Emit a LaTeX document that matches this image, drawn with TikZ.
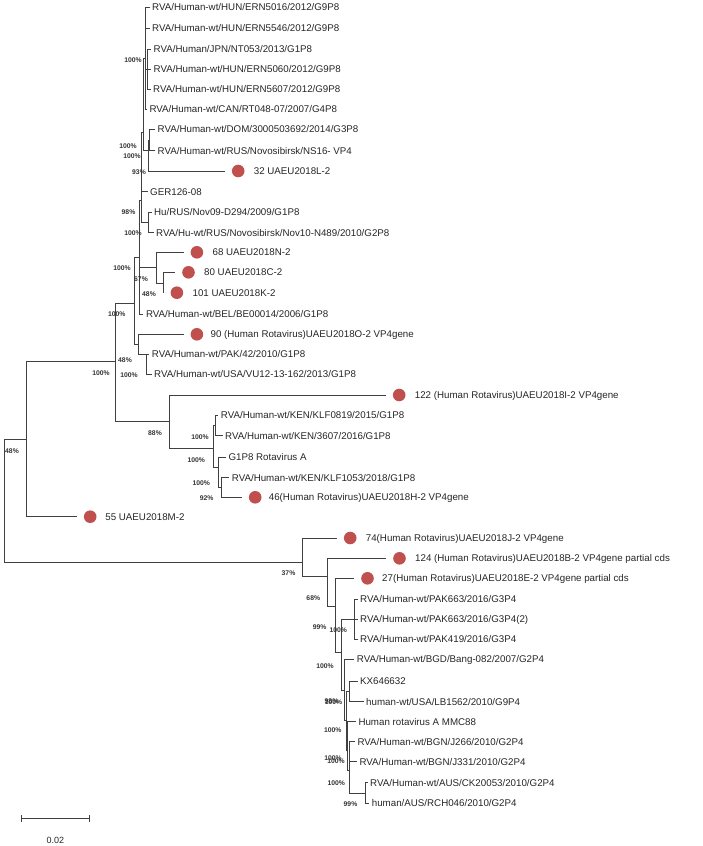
\documentclass[tikz,border=0pt]{standalone}
\usepackage{fontspec}
\setmainfont{Liberation Sans}
\usetikzlibrary{positioning,arrows.meta}
\definecolor{dotred}{RGB}{192,80,77}

\begin{document}
\begin{tikzpicture}[x=1pt,y=-1pt]

	\tikzset{branch/.style={line width=0.8pt,draw=black!75},
		leaf/.style={anchor=west,inner sep=0pt,text height=7pt,text depth=0pt,
			font=\fontsize{9.75}{11}\selectfont,text=black!85},
		udot/.style={circle,fill=dotred,inner sep=0pt,minimum size=12.6pt},
		bs/.style={inner sep=0pt,text height=5pt,text depth=0pt,
			font=\fontsize{6.8}{7}\selectfont\bfseries,text=black!80}}
	\useasboundingbox (0,0) rectangle (702,846);

	% internal nodes
	\coordinate (root) at (4,500);
	\coordinate (R1) at (26,439);
	\coordinate (N115) at (115.7,361);
	\coordinate (N88) at (169,421.7);
	\coordinate (K1) at (213.3,448);
	\coordinate (K2) at (215,425.3);
	\coordinate (K3) at (218.3,467);
	\coordinate (K4) at (221.7,487.5);
	\coordinate (U) at (134.3,303);
	\coordinate (V) at (138.3,344);
	\coordinate (PAKn) at (146.7,354);
	\coordinate (B) at (139.3,257);
	\coordinate (M1) at (156.7,267);
	\coordinate (M2) at (163.3,283);
	\coordinate (C) at (141.7,200);
	\coordinate (HuR) at (148.3,222);
	\coordinate (D) at (143.3,132);
	\coordinate (E) at (145.7,58);
	\coordinate (E2) at (147.3,69.3);
	\coordinate (F) at (148.3,150);
	\coordinate (F2) at (149.5,140);
	\coordinate (L1) at (302,562.3);
	\coordinate (L2) at (327,576.7);
	\coordinate (L3) at (335,606.7);
	\coordinate (L4) at (341.7,652);
	\coordinate (PKn) at (354.3,619);
	\coordinate (L5) at (344,690);
	\coordinate (L6) at (346,720);
	\coordinate (KXn) at (349.3,691);
	\coordinate (L7) at (347.5,750);
	\coordinate (L8) at (349,770);
	\coordinate (CKn) at (365,793);

	% branch tips
	\coordinate (t5016) at (149.5,7.3);
	\coordinate (t5546) at (149.5,28.3);
	\coordinate (tJPN) at (151,49.3);
	\coordinate (t5060) at (151,69.3);
	\coordinate (t5607) at (150.5,89.3);
	\coordinate (tCAN) at (146.8,109.3);
	\coordinate (tDOM) at (155,129.3);
	\coordinate (tNS16) at (155,150.7);
	\coordinate (t32) at (225,171);
	\coordinate (tGER) at (147.5,191.7);
	\coordinate (tHu) at (151.5,212.3);
	\coordinate (tNov10) at (153.5,232.7);
	\coordinate (t68) at (183.7,252.3);
	\coordinate (t80) at (175.3,272.3);
	\coordinate (t101) at (163.7,292.7);
	\coordinate (tBEL) at (143.3,314);
	\coordinate (t90) at (183.7,334.3);
	\coordinate (tPAK42) at (149.2,354);
	\coordinate (tVU12) at (151.5,374);
	\coordinate (t122) at (386,395);
	\coordinate (t0819) at (218.2,415);
	\coordinate (t3607) at (222.5,435.7);
	\coordinate (tG1P8) at (225.8,457);
	\coordinate (t1053) at (229.2,477.7);
	\coordinate (t46) at (242,497.3);
	\coordinate (t55) at (77,516.7);
	\coordinate (t74) at (337,538);
	\coordinate (t124) at (386.3,558.3);
	\coordinate (t27) at (354.3,578.3);
	\coordinate (tPK1) at (357.5,599);
	\coordinate (tPK2) at (357.5,619);
	\coordinate (tPK3) at (357.5,639);
	\coordinate (tBGD) at (354.2,659);
	\coordinate (tKX) at (357.5,681);
	\coordinate (tLB) at (363.5,701.7);
	\coordinate (tMMC) at (355.8,721.7);
	\coordinate (tJ266) at (354.8,741.7);
	\coordinate (tJ331) at (356.8,761.7);
	\coordinate (tCK) at (367.5,782.7);
	\coordinate (tRCH) at (369.2,803.3);

	% branches
	\draw[branch] (root) |- (R1) (root) |- (L1);
	\draw[branch] (R1) |- (N115) (R1) |- (t55);
	\draw[branch] (N115) |- (U) (N115) |- (N88);
	\draw[branch] (N88) |- (t122) (N88) |- (K1);
	\draw[branch] (K1) |- (K2) (K1) |- (K3);
	\draw[branch] (K2) |- (t0819) (K2) |- (t3607);
	\draw[branch] (K3) |- (tG1P8) (K3) |- (K4);
	\draw[branch] (K4) |- (t1053) (K4) |- (t46);
	\draw[branch] (U) |- (B) (U) |- (V);
	\draw[branch] (V) |- (t90) (V) |- (PAKn);
	\draw[branch] (PAKn) |- (tPAK42) (PAKn) |- (tVU12);
	\draw[branch] (B) |- (C) (B) |- (M1) (B) |- (tBEL);
	\draw[branch] (M1) |- (t68) (M1) |- (M2);
	\draw[branch] (M2) |- (t80) (M2) |- (t101);
	\draw[branch] (C) |- (D) (C) |- (tGER) (C) |- (HuR);
	\draw[branch] (HuR) |- (tHu) (HuR) |- (tNov10);
	\draw[branch] (D) |- (E) (D) |- (F);
	\draw[branch] (E) |- (t5016) (E) |- (t5546) (E) |- (E2) (E) |- (tCAN);
	\draw[branch] (E2) |- (tJPN) (E2) |- (t5060) (E2) |- (t5607);
	\draw[branch] (F) |- (F2) (F) |- (t32);
	\draw[branch] (F2) |- (tDOM) (F2) |- (tNS16);
	\draw[branch] (L1) |- (t74) (L1) |- (L2);
	\draw[branch] (L2) |- (t124) (L2) |- (L3);
	\draw[branch] (L3) |- (t27) (L3) |- (L4);
	\draw[branch] (L4) |- (PKn) (L4) |- (L5);
	\draw[branch] (PKn) |- (tPK1) (PKn) |- (tPK2) (PKn) |- (tPK3);
	\draw[branch] (L5) |- (tBGD) (L5) |- (L6);
	\draw[branch] (L6) |- (KXn) (L6) |- (L7);
	\draw[branch] (KXn) |- (tKX) (KXn) |- (tLB);
	\draw[branch] (L7) |- (tMMC) (L7) |- (L8);
	\draw[branch] (L8) |- (tJ266) (L8) |- (tJ331) (L8) |- (CKn);
	\draw[branch] (CKn) |- (tCK) (CKn) |- (tRCH);

	% sample dots
	\node[udot, right=6.7pt of t32] (d32) {};
	\node[udot, right=6.7pt of t68] (d68) {};
	\node[udot, right=6.7pt of t80] (d80) {};
	\node[udot, right=6.7pt of t101] (d101) {};
	\node[udot, right=6.7pt of t90] (d90) {};
	\node[udot, right=6.7pt of t122] (d122) {};
	\node[udot, right=6.7pt of t46] (d46) {};
	\node[udot, right=6.7pt of t55] (d55) {};
	\node[udot, right=6.7pt of t74] (d74) {};
	\node[udot, right=6.7pt of t124] (d124) {};
	\node[udot, right=6.7pt of t27] (d27) {};

	% leaf labels
	\node[leaf, right=2.5pt of t5016] (n5016) {RVA/Human-wt/HUN/ERN5016/2012/G9P8};
	\node[leaf, right=2.5pt of t5546] (n5546) {RVA/Human-wt/HUN/ERN5546/2012/G9P8};
	\node[leaf, right=2.5pt of tJPN] (nJPN) {RVA/Human/JPN/NT053/2013/G1P8};
	\node[leaf, right=2.5pt of t5060] (n5060) {RVA/Human-wt/HUN/ERN5060/2012/G9P8};
	\node[leaf, right=2.5pt of t5607] (n5607) {RVA/Human-wt/HUN/ERN5607/2012/G9P8};
	\node[leaf, right=2.5pt of tCAN] (nCAN) {RVA/Human-wt/CAN/RT048-07/2007/G4P8};
	\node[leaf, right=2.5pt of tDOM] (nDOM) {RVA/Human-wt/DOM/3000503692/2014/G3P8};
	\node[leaf, right=2.5pt of tNS16] (nNS16) {RVA/Human-wt/RUS/Novosibirsk/NS16- VP4};
	\node[leaf, right=9pt of d32] (n32) {32 UAEU2018L-2};
	\node[leaf, right=2.5pt of tGER] (nGER) {GER126-08};
	\node[leaf, right=2.5pt of tHu] (nHu) {Hu/RUS/Nov09-D294/2009/G1P8};
	\node[leaf, right=2.5pt of tNov10] (nNov10) {RVA/Hu-wt/RUS/Novosibirsk/Nov10-N489/2010/G2P8};
	\node[leaf, right=9pt of d68] (n68) {68 UAEU2018N-2};
	\node[leaf, right=9pt of d80] (n80) {80 UAEU2018C-2};
	\node[leaf, right=9pt of d101] (n101) {101 UAEU2018K-2};
	\node[leaf, right=2.5pt of tBEL] (nBEL) {RVA/Human-wt/BEL/BE00014/2006/G1P8};
	\node[leaf, right=7pt of d90] (n90) {90 (Human Rotavirus)UAEU2018O-2 VP4gene};
	\node[leaf, right=2.5pt of tPAK42] (nPAK42) {RVA/Human-wt/PAK/42/2010/G1P8};
	\node[leaf, right=2.5pt of tVU12] (nVU12) {RVA/Human-wt/USA/VU12-13-162/2013/G1P8};
	\node[leaf, right=9pt of d122] (n122) {122 (Human Rotavirus)UAEU2018I-2 VP4gene};
	\node[leaf, right=2.5pt of t0819] (n0819) {RVA/Human-wt/KEN/KLF0819/2015/G1P8};
	\node[leaf, right=2.5pt of t3607] (n3607) {RVA/Human-wt/KEN/3607/2016/G1P8};
	\node[leaf, right=2.5pt of tG1P8] (nG1P8) {G1P8 Rotavirus A};
	\node[leaf, right=2.5pt of t1053] (n1053) {RVA/Human-wt/KEN/KLF1053/2018/G1P8};
	\node[leaf, right=7pt of d46] (n46) {46(Human Rotavirus)UAEU2018H-2 VP4gene};
	\node[leaf, right=8.5pt of d55] (n55) {55 UAEU2018M-2};
	\node[leaf, right=9pt of d74] (n74) {74(Human Rotavirus)UAEU2018J-2 VP4gene};
	\node[leaf, right=9pt of d124] (n124) {124 (Human Rotavirus)UAEU2018B-2 VP4gene partial cds};
	\node[leaf, right=8pt of d27] (n27) {27(Human Rotavirus)UAEU2018E-2 VP4gene partial cds};
	\node[leaf, right=2.5pt of tPK1] (nPK1) {RVA/Human-wt/PAK663/2016/G3P4};
	\node[leaf, right=2.5pt of tPK2] (nPK2) {RVA/Human-wt/PAK663/2016/G3P4(2)};
	\node[leaf, right=2.5pt of tPK3] (nPK3) {RVA/Human-wt/PAK419/2016/G3P4};
	\node[leaf, right=2.5pt of tBGD] (nBGD) {RVA/Human-wt/BGD/Bang-082/2007/G2P4};
	\node[leaf, right=2.5pt of tKX] (nKX) {KX646632};
	\node[leaf, right=2.5pt of tLB] (nLB) {human-wt/USA/LB1562/2010/G9P4};
	\node[leaf, right=2.5pt of tMMC] (nMMC) {Human rotavirus A MMC88};
	\node[leaf, right=2.5pt of tJ266] (nJ266) {RVA/Human-wt/BGN/J266/2010/G2P4};
	\node[leaf, right=2.5pt of tJ331] (nJ331) {RVA/Human-wt/BGN/J331/2010/G2P4};
	\node[leaf, right=2.5pt of tCK] (nCK) {RVA/Human-wt/AUS/CK20053/2010/G2P4};
	\node[leaf, right=2.5pt of tRCH] (nRCH) {human/AUS/RCH046/2010/G2P4};

	% bootstrap values
	\node[bs] (bE) at (133,60) {100\%};
	\node[bs] (bD1) at (128,146) {100\%};
	\node[bs] (bD2) at (132,156) {100\%};
	\node[bs] (bF) at (139,171.5) {93\%};
	\node[bs] (bC) at (128.5,212) {98\%};
	\node[bs] (bHu) at (133,232.7) {100\%};
	\node[bs] (bB) at (122,268) {100\%};
	\node[bs] (bM1) at (141,278.5) {67\%};
	\node[bs] (bM2) at (149,294) {48\%};
	\node[bs] (bBEL) at (116.7,314.3) {100\%};
	\node[bs] (bU) at (125,360) {48\%};
	\node[bs] (bN) at (101,373) {100\%};
	\node[bs] (bPAK) at (129,375) {100\%};
	\node[bs] (broot) at (12,450.5) {48\%};
	\node[bs] (bN88) at (155,432.7) {88\%};
	\node[bs] (bK2) at (200,436.7) {100\%};
	\node[bs] (bK1) at (196.3,460) {100\%};
	\node[bs] (bK3) at (201.3,482.7) {100\%};
	\node[bs] (bK4) at (206.7,498.3) {92\%};
	\node[bs] (bL1) at (288.5,573.3) {37\%};
	\node[bs] (bL2) at (313.3,598.3) {68\%};
	\node[bs] (bL3) at (319.7,627.3) {99\%};
	\node[bs] (bPK) at (338.3,630) {100\%};
	\node[bs] (bL4) at (325,665.7) {100\%};
	\node[bs] (bL5) at (331.5,701.2) {98\%};
	\node[bs] (bKX) at (333.5,702) {100\%};
	\node[bs] (bL6) at (332.7,730) {100\%};
	\node[bs] (bL7) at (333,757.5) {100\%};
	\node[bs] (bL8) at (336,760.5) {100\%};
	\node[bs] (bJ) at (336.3,783.3) {100\%};
	\node[bs] (bCK) at (350.5,804) {99\%};

	% scale bar
	\coordinate (sbL) at (20.7,818.3);
	\coordinate (sbR) at (90,818.3);
	\draw[branch,{Bar[width=7pt]}-{Bar[width=7pt]}] (sbL) -- (sbR);
	\node[inner sep=0pt,font=\fontsize{9}{10}\selectfont,text=black!85] (sbT) at (55.3,840) {0.02};
\end{tikzpicture}
\end{document}
